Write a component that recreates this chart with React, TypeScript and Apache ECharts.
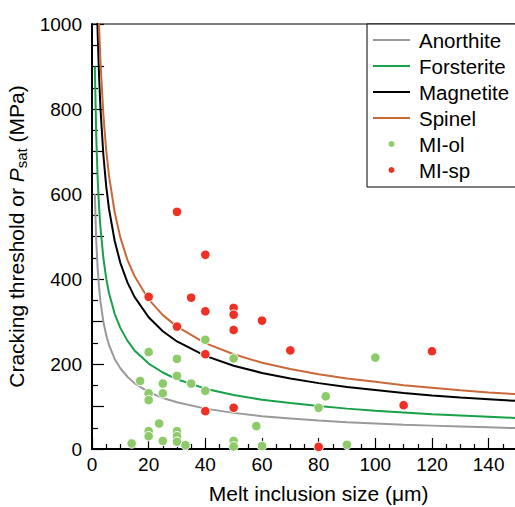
import React, { useEffect, useRef } from "react";
import * as echarts from "echarts";

// Curve sample positions (melt inclusion size, µm)
const curveX = [1, 1.5, 2, 2.5, 3, 4, 5, 6, 8, 10, 12.5, 15, 20, 25, 30, 40, 50, 60, 70, 80, 90, 100, 110, 120, 130, 140, 150];
// Cracking threshold curves (MPa)
const anorthite = [600, 490, 424, 379, 346, 300, 268, 245, 212, 190, 170, 155, 134, 120, 110, 95, 85, 77, 72, 67, 63, 60, 57, 55, 53, 51, 49];
const forsterite = [900, 735, 636, 569, 520, 450, 402, 367, 318, 285, 255, 232, 201, 180, 164, 142, 127, 116, 108, 101, 95, 90, 86, 82, 79, 76, 73];
const magnetite = [1385, 1131, 979, 876, 800, 693, 619, 565, 490, 438, 392, 358, 310, 277, 253, 219, 196, 179, 166, 155, 146, 139, 132, 126, 121, 117, 113];
const spinel = [1575, 1286, 1114, 996, 909, 788, 704, 643, 557, 498, 445, 407, 352, 315, 288, 249, 223, 203, 188, 176, 166, 158, 150, 144, 138, 133, 129];

// Melt inclusions in olivine: [size, Psat]
const miOl: number[][] = [
  [20, 228], [30, 212], [30, 172], [17, 160], [25, 154], [35, 154], [20, 131], [25, 131], [20, 115],
  [40, 137], [40, 257], [50, 213], [100, 215], [82.5, 124], [80, 97], [58, 54], [23.7, 60],
  [20, 42], [20, 30], [30, 42], [30, 30], [30, 17], [25, 19], [14, 13], [33, 9], [50, 19], [50, 6],
  [60, 7], [90, 10],
];
// Melt inclusions in spinel: [size, Psat]
const miSp: number[][] = [
  [20, 358], [30, 558], [40, 457], [35, 356], [40, 324], [50, 332], [50, 316], [60, 302], [30, 288],
  [50, 280], [70, 232], [40, 223], [40, 89], [50, 97], [120, 230], [110, 103], [80, 5],
];

const FONT = "'Liberation Sans', Arial, Helvetica, sans-serif";
const LINE_ICON = "path://M0,0L37,0L37,2L0,2Z";

function pairs(ys: number[]) {
  return curveX.map((x, i) => [x, ys[i]]);
}

export default function App() {
  const ref = useRef<HTMLDivElement>(null);
  useEffect(() => {
    document.body.style.margin = "0";
    if (!ref.current) return;
    const chart = echarts.init(ref.current, null, { renderer: "svg" });
    const lineSeries = (name: string, ys: number[], color: string) => ({
      name,
      type: "line",
      data: pairs(ys),
      symbol: "none",
      showSymbol: false,
      clip: true,
      z: 2,
      lineStyle: { color, width: 2 },
      itemStyle: { color },
    });
    chart.setOption({
      animation: false,
      textStyle: { fontFamily: FONT },
      grid: {
        left: 92,
        top: 24,
        width: 453.3,
        height: 425,
        show: true,
        borderColor: "#000",
        borderWidth: 1,
        containLabel: false,
        outerBoundsMode: "none",
      },
      legend: {
        orient: "vertical",
        left: 367,
        top: 24,
        itemWidth: 37,
        itemHeight: 8,
        itemGap: 0,
        padding: [3, 40, 4, 6],
        borderColor: "#000",
        borderWidth: 1,
        backgroundColor: "#fff",
        textStyle: { fontSize: 20.5, lineHeight: 26, color: "#000", fontFamily: FONT, padding: [0, 0, 0, 4] },
        data: [
          { name: "Anorthite", icon: LINE_ICON },
          { name: "Forsterite", icon: LINE_ICON },
          { name: "Magnetite", icon: LINE_ICON },
          { name: "Spinel", icon: LINE_ICON },
          { name: "MI-ol", icon: "circle" },
          { name: "MI-sp", icon: "circle" },
        ],
      },
      xAxis: {
        type: "value",
        min: 0,
        max: 160,
        interval: 20,
        name: "Melt inclusion size (μm)",
        nameLocation: "middle",
        nameGap: 34,
        nameTextStyle: { fontSize: 21, color: "#000", fontFamily: FONT },
        axisLine: { show: true, lineStyle: { color: "#000", width: 2 } },
        axisTick: { show: true, inside: true, length: 11, lineStyle: { color: "#000", width: 1.2 } },
        minorTick: { show: true, splitNumber: 4, length: 5, lineStyle: { color: "#000", width: 1.2 } },
        axisLabel: { fontSize: 19, color: "#000", margin: 6, fontFamily: FONT, showMaxLabel: false },
        splitLine: { show: false },
        minorSplitLine: { show: false },
      },
      yAxis: {
        type: "value",
        min: 0,
        max: 1000,
        interval: 100,
        name: "{a|Cracking threshold or }{i|P}{s|sat}{a| (MPa)}",
        nameLocation: "middle",
        nameGap: 58,
        nameTextStyle: {
          fontSize: 21,
          color: "#000",
          fontFamily: FONT,
          rich: {
            a: { fontSize: 21, lineHeight: 24, color: "#000", fontFamily: FONT },
            i: { fontSize: 21, lineHeight: 24, fontStyle: "italic", color: "#000", fontFamily: FONT },
            s: { fontSize: 15, lineHeight: 14, verticalAlign: "bottom", color: "#000", fontFamily: FONT },
          },
        },
        axisLine: { show: true, lineStyle: { color: "#000", width: 2 } },
        axisTick: { show: true, inside: true, length: 12, lineStyle: { color: "#000", width: 1.2 } },
        minorTick: { show: true, splitNumber: 2, length: 6, lineStyle: { color: "#000", width: 1.2 } },
        axisLabel: {
          fontSize: 19,
          color: "#000",
          margin: 10,
          fontFamily: FONT,
          formatter: (v: number) => (v % 200 === 0 ? String(v) : ""),
        },
        splitLine: { show: false },
        minorSplitLine: { show: false },
      },
      series: [
        lineSeries("Anorthite", anorthite, "#9a9a9a"),
        lineSeries("Forsterite", forsterite, "#17a24a"),
        lineSeries("Magnetite", magnetite, "#000000"),
        lineSeries("Spinel", spinel, "#c9693a"),
        {
          name: "MI-ol",
          type: "scatter",
          data: miOl,
          symbol: "circle",
          symbolSize: 9.5,
          z: 3,
          itemStyle: { color: "#8dcb6a", borderColor: "#fff", borderWidth: 1, opacity: 1 },
        },
        {
          name: "MI-sp",
          type: "scatter",
          data: miSp,
          symbol: "circle",
          symbolSize: 9.5,
          z: 4,
          itemStyle: { color: "#ee3124", borderColor: "#fff", borderWidth: 1, opacity: 1 },
        },
      ],
    });
    return () => chart.dispose();
  }, []);
  return <div ref={ref} style={{ width: 515, height: 507, display: "block" }} />;
}
